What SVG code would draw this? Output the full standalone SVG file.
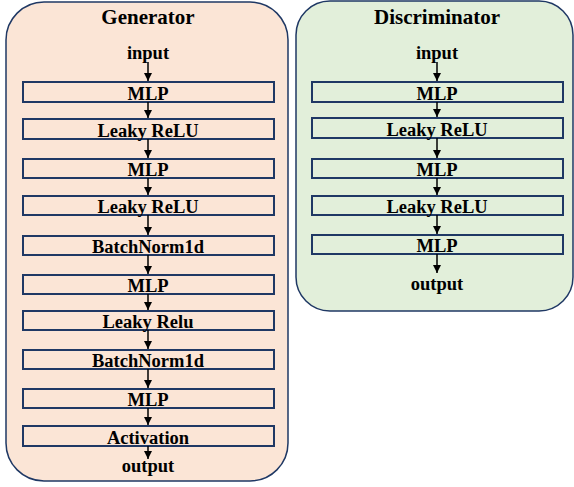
<svg xmlns="http://www.w3.org/2000/svg" width="574" height="487" viewBox="0 0 574 487">
<style>
text{font-family:"Liberation Serif","Times New Roman",serif;font-weight:bold;fill:#000;text-anchor:middle}
.title{font-size:21px}
.lbl{font-size:18.5px}
.box{stroke:#1F3864;stroke-width:2}
.gen{fill:#FBE5D6}
.dis{fill:#E2EFDA}
.cont{stroke:#1F3864;stroke-width:1.5}
.arr{stroke:#000;stroke-width:1.5;fill:none;marker-end:url(#ah)}
</style>
<defs>
<marker id="ah" markerUnits="userSpaceOnUse" markerWidth="8" markerHeight="8" refX="8" refY="4" orient="auto">
<path d="M0,0 L8,4 L0,8 z" fill="#000"/>
</marker>
</defs>
<g id="generator">
<rect class="cont gen" x="6" y="2" width="282" height="479" rx="38"/>
<text class="title" x="148" y="24">Generator</text>
<text class="lbl" x="148" y="59">input</text>
<text class="lbl" x="148" y="472">output</text>
</g>
<g id="g-mlp1"><rect class="box gen" x="23" y="82" width="251" height="20"/><text class="lbl" x="148" y="100">MLP</text></g>
<g id="g-lrelu1"><rect class="box gen" x="23" y="119" width="251" height="20"/><text class="lbl" x="148" y="137">Leaky ReLU</text></g>
<g id="g-mlp2"><rect class="box gen" x="23" y="159" width="251" height="19"/><text class="lbl" x="148" y="176">MLP</text></g>
<g id="g-lrelu2"><rect class="box gen" x="23" y="196" width="251" height="19"/><text class="lbl" x="148" y="213">Leaky ReLU</text></g>
<g id="g-bn1"><rect class="box gen" x="23" y="236" width="251" height="19"/><text class="lbl" x="148" y="253">BatchNorm1d</text></g>
<g id="g-mlp3"><rect class="box gen" x="23" y="275" width="251" height="19"/><text class="lbl" x="148" y="292">MLP</text></g>
<g id="g-lrelu3"><rect class="box gen" x="23" y="311" width="251" height="19"/><text class="lbl" x="148" y="328">Leaky Relu</text></g>
<g id="g-bn2"><rect class="box gen" x="23" y="350" width="251" height="19"/><text class="lbl" x="148" y="367">BatchNorm1d</text></g>
<g id="g-mlp4"><rect class="box gen" x="23" y="389" width="251" height="19"/><text class="lbl" x="148" y="406">MLP</text></g>
<g id="g-act"><rect class="box gen" x="23" y="426" width="251" height="20"/><text class="lbl" x="148" y="444">Activation</text></g>
<g id="discriminator">
<rect class="cont dis" x="296" y="1" width="277" height="310" rx="34"/>
<text class="title" x="437" y="24">Discriminator</text>
<text class="lbl" x="437" y="59">input</text>
<text class="lbl" x="437" y="290">output</text>
</g>
<g id="d-mlp1"><rect class="box dis" x="312" y="82" width="251" height="20"/><text class="lbl" x="437" y="100">MLP</text></g>
<g id="d-lrelu1"><rect class="box dis" x="312" y="118" width="251" height="20"/><text class="lbl" x="437" y="136">Leaky ReLU</text></g>
<g id="d-mlp2"><rect class="box dis" x="312" y="159" width="251" height="19"/><text class="lbl" x="437" y="176">MLP</text></g>
<g id="d-lrelu2"><rect class="box dis" x="312" y="196" width="251" height="19"/><text class="lbl" x="437" y="213">Leaky ReLU</text></g>
<g id="d-mlp3"><rect class="box dis" x="312" y="235" width="251" height="19"/><text class="lbl" x="437" y="252">MLP</text></g>
<g id="connectors">
<line class="arr" x1="148" y1="62" x2="148" y2="81"/>
<line class="arr" x1="148" y1="102" x2="148" y2="118"/>
<line class="arr" x1="148" y1="139" x2="148" y2="158"/>
<line class="arr" x1="148" y1="178" x2="148" y2="195"/>
<line class="arr" x1="148" y1="215" x2="148" y2="235"/>
<line class="arr" x1="148" y1="255" x2="148" y2="274"/>
<line class="arr" x1="148" y1="294" x2="148" y2="310"/>
<line class="arr" x1="148" y1="330" x2="148" y2="349"/>
<line class="arr" x1="148" y1="369" x2="148" y2="388"/>
<line class="arr" x1="148" y1="408" x2="148" y2="425"/>
<line class="arr" x1="148" y1="446" x2="148" y2="459"/>
<line class="arr" x1="437" y1="62" x2="437" y2="81"/>
<line class="arr" x1="437" y1="102" x2="437" y2="117"/>
<line class="arr" x1="437" y1="138" x2="437" y2="158"/>
<line class="arr" x1="437" y1="178" x2="437" y2="195"/>
<line class="arr" x1="437" y1="215" x2="437" y2="234"/>
<line class="arr" x1="437" y1="254" x2="437" y2="273"/>
</g>
</svg>
